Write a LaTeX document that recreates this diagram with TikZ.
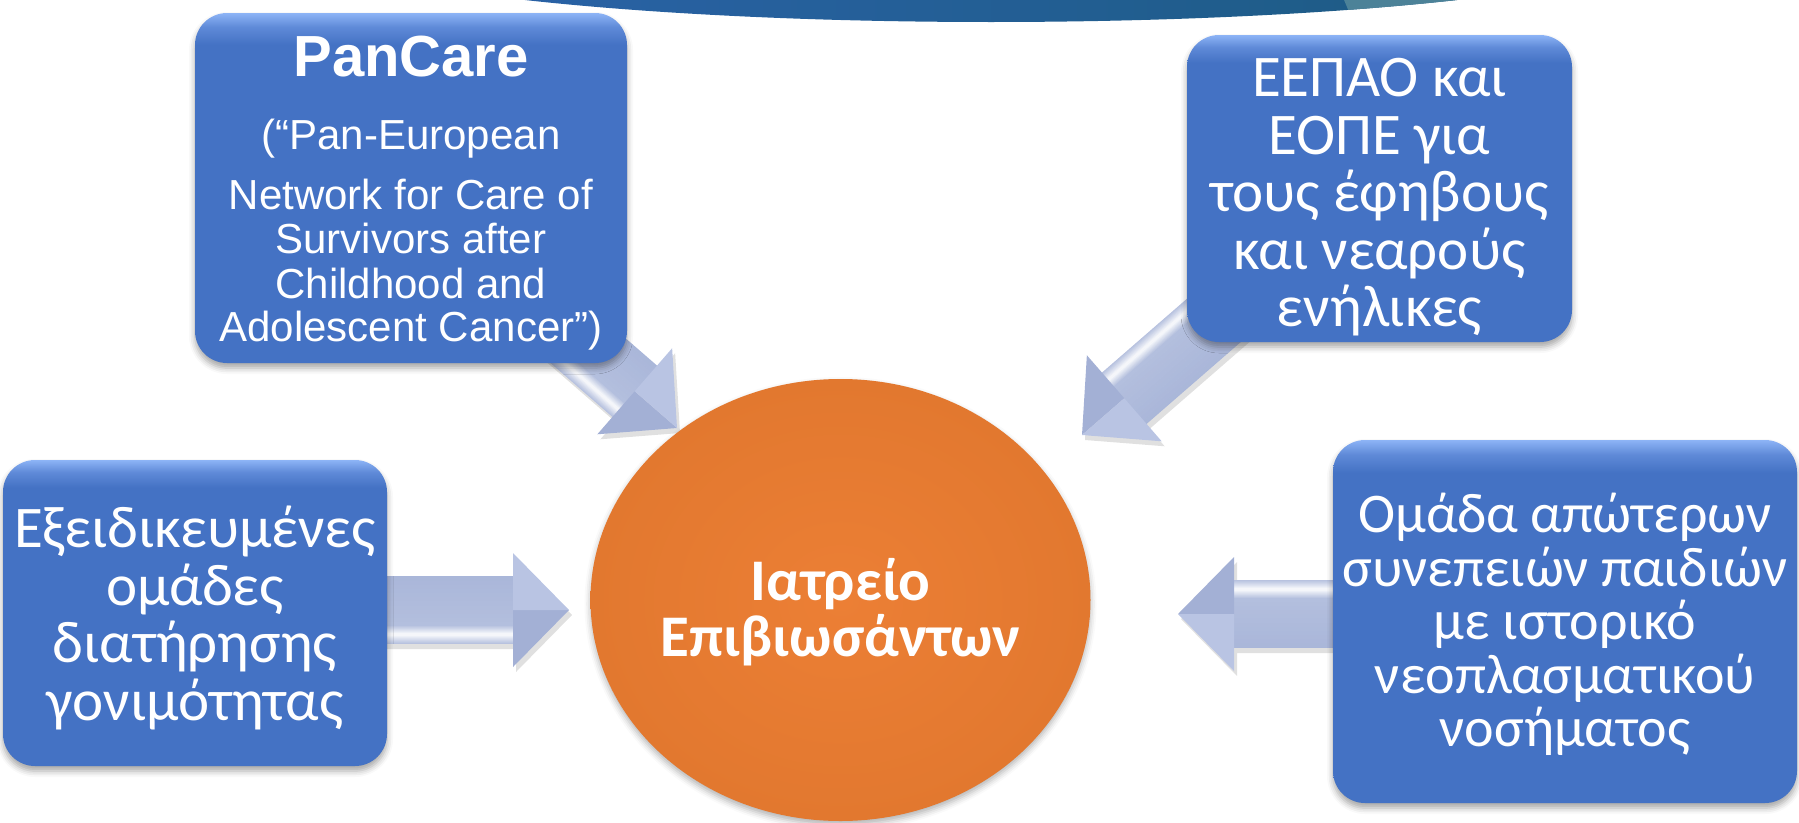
\documentclass[tikz,border=0pt]{standalone}
\usepackage{fontspec}
\setmainfont{Carlito}
\newfontfamily\arialf{Liberation Sans}
\usetikzlibrary{shapes.geometric,shadows.blur,calc}

\definecolor{boxB}{HTML}{4472C4}
\definecolor{boxM}{HTML}{5F8AD8}
\definecolor{boxT}{HTML}{8DB4F6}
\definecolor{hubC}{HTML}{EC7F35}
\definecolor{hubE}{HTML}{E2782F}
\definecolor{arB}{HTML}{A9B6D9}
\definecolor{arU}{HTML}{B9C4E3}
\definecolor{arL}{HTML}{A3B0D5}
\definecolor{topL}{HTML}{2C63AD}
\definecolor{topR}{HTML}{1A5A7C}
\definecolor{topP}{HTML}{4C8298}

\pgfdeclareverticalshading{boxshade}{100bp}{color(0bp)=(boxB); color(25bp)=(boxB); color(70.5bp)=(boxB); color(73bp)=(boxM); color(75bp)=(boxT); color(100bp)=(boxT)}

\tikzset{
  infobox/.style={shape=rectangle, rounded corners=32pt, shade, shading=boxshade,
    inner sep=0pt,
    blur shadow={shadow xshift=0pt, shadow yshift=-5pt, shadow blur radius=6pt, shadow opacity=35}},
  boxtext/.style={text=white, align=center, inner sep=0pt},
  greekfont/.style={font=\fontsize{59}{57.5}\selectfont},
  greeksmall/.style={font=\fontsize{56}{53.5}\selectfont},
  hubnode/.style={shape=ellipse, inner sep=0pt, shade, inner color=hubC, outer color=hubE,
    blur shadow={shadow xshift=0pt, shadow yshift=-4pt, shadow blur radius=6pt, shadow opacity=30}},
  hubtext/.style={text=white, align=center, inner sep=0pt, font=\bfseries\fontsize{59}{56}\selectfont},
  pctitle/.style={text=white, anchor=base, inner sep=0pt, font=\arialf\bfseries\fontsize{58}{60}\selectfont},
  pcline/.style={text=white, anchor=base, inner sep=0pt, font=\arialf\fontsize{42}{44}\selectfont}
}

\newcommand\blockarrow[3]{%
  \begin{scope}[shift={($(#1)+(3,5)$)}, rotate=#2]
    \fill[black, opacity=0.12] (-#3,-34) -- (-56,-34) -- (-56,-57) -- (0,0) -- (-56,57) -- (-56,34) -- (-#3,34) -- cycle;
  \end{scope}
  \begin{scope}[shift={(#1)}, rotate=#2]
    \foreach \yy in {-34,...,33}{%
      \pgfmathtruncatemacro\ww{max(12,100-14*(\yy+34)/58-82*max(0,1-abs(\yy-24)/9))}%
      \fill[arB!\ww!white] (-#3,\yy) rectangle (-55,{min(\yy+1.5,34)});
    }
    \fill[arL] (-56,57) -- (0,0) -- (-56,0) -- cycle;
    \fill[arU] (-56,-57) -- (0,0) -- (-56,0) -- cycle;
  \end{scope}}

\begin{document}
\begin{tikzpicture}[x=1pt, y=-1pt]
\useasboundingbox (0,0) rectangle (1799,822);

% top arc
\begin{scope}
  \clip (0,0) rectangle (1799,822);
  \shade[left color=topL, right color=topR] (991,-64.6) ellipse [x radius=700, y radius=86.6];
  \clip (991,-64.6) ellipse [x radius=700, y radius=86.6];
  \fill[topP] (1342,-5) -- (1354,24) -- (1700,24) -- (1700,-5) -- cycle;
\end{scope}

% arrow tips
\coordinate (tipL) at (569,610);
\coordinate (tipR) at (1178,614);
\coordinate (tipP) at (677,428);
\coordinate (tipE) at (1082,435);

\blockarrow{tipL}{0}{200}
\blockarrow{tipR}{180}{170}
\blockarrow{tipP}{-41}{200}
\blockarrow{tipE}{-139}{200}

% boxes
\node[infobox, minimum width=432pt, minimum height=350pt] (pancare) at (411,188) {};
\node[pctitle] (pc1) at ($(pancare.north)+(0,64)$) {PanCare};
\node[pcline] (pc2) at ($(pancare.north)+(0,137)$) {(“Pan-European};
\node[pcline] (pc3) at ($(pancare.north)+(0,197)$) {Network for Care of};
\node[pcline] (pc4) at ($(pancare.north)+(0,241)$) {Survivors after};
\node[pcline] (pc5) at ($(pancare.north)+(0,286)$) {Childhood and};
\node[pcline] (pc6) at ($(pancare.north)+(0,329)$) {Adolescent Cancer”)};

\node[infobox, minimum width=385pt, minimum height=307pt] (eepao) at (1379.5,188.5) {};
\node[boxtext, greekfont] (eepaot) at ($(eepao.center)+(0,9)$)
  {ΕΕΠΑΟ και\\ΕΟΠΕ για\\τους έφηβους\\και νεαρούς\\ενήλικες};

\node[infobox, minimum width=384pt, minimum height=306pt] (fert) at (195,613) {};
\node[boxtext, greekfont] (fertt) at ($(fert.center)+(0,5)$)
  {Εξειδικευμένες\\ομάδες\\διατήρησης\\γονιμότητας};

\node[infobox, minimum width=464pt, minimum height=363pt] (late) at (1565,621.5) {};
\node[boxtext, greeksmall] (latet) at ($(late.center)+(0,3)$)
  {Ομάδα απώτερων\\συνεπειών παιδιών\\με ιστορικό\\νεοπλασματικού\\νοσήματος};

% hub
\node[hubnode, minimum width=500pt, minimum height=442pt] (hub) at (840.5,600) {};
\node[hubtext] (hubt) at ($(hub.center)+(0,12)$) {Ιατρείο\\Επιβιωσάντων};
\end{tikzpicture}
\end{document}
